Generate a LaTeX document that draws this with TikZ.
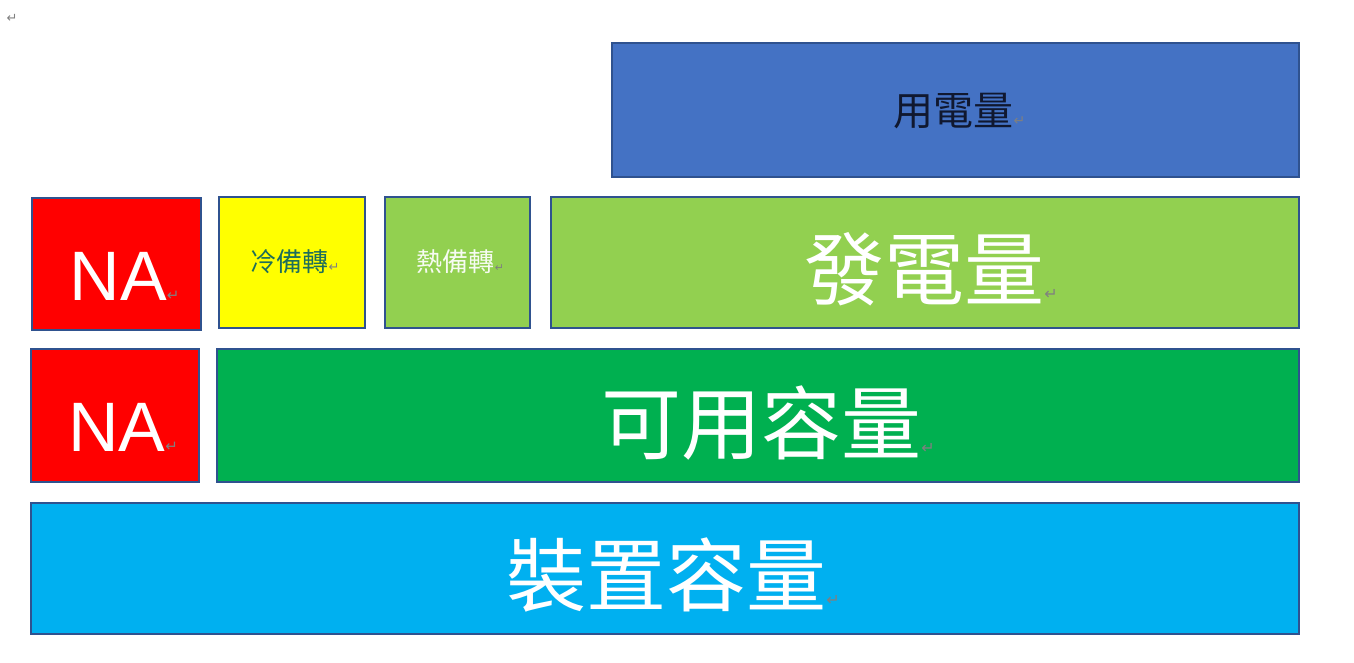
\documentclass[tikz,border=0pt]{standalone}
\usepackage{fontspec}
\setmainfont{Liberation Sans}
\newfontfamily\cjk{Noto Sans CJK TC}
\newfontfamily\dejavu{DejaVu Sans}
\definecolor{edgeblue}{HTML}{2F528F}
\definecolor{useblue}{HTML}{4472C4}
\definecolor{nared}{HTML}{FF0000}
\definecolor{coldyellow}{HTML}{FFFF00}
\definecolor{lightgreen}{HTML}{92D050}
\definecolor{darkgreen}{HTML}{00B050}
\definecolor{skyblue}{HTML}{00B0F0}
\definecolor{coldtext}{HTML}{1E6E5A}
\definecolor{usetext}{HTML}{101830}
\newcommand\retmk[1][14]{{\color{gray}\dejavu\fontsize{#1}{#1}\selectfont ↵}}
\tikzset{
  blk/.style={draw=edgeblue, line width=2.5pt, inner sep=0pt},
  lbl/.style={inner sep=0pt, align=center},
}
\begin{document}
\begin{tikzpicture}[x=1pt,y=-1pt]
\useasboundingbox[fill=white] (0,0) rectangle (1354,662);
\node[inner sep=0pt] (mark) at (12,18) {\retmk[13]};
% usage
\node[blk, fill=useblue, minimum width=687, minimum height=134] (use) at (955.5,110) {};
\node[lbl] (use-t) at ([xshift=4pt,yshift=-1pt]use.center)
  {\cjk\fontsize{40}{40}\selectfont\color{usetext}用電量\retmk};
% row 2
\node[blk, fill=nared, minimum width=169, minimum height=132] (na1) at (116.5,264) {};
\node[lbl] (na1-t) at ([xshift=8pt,yshift=-12pt]na1.center)
  {\fontsize{70}{70}\selectfont\color{white}NA\retmk[15]};
\node[blk, fill=coldyellow, minimum width=146, minimum height=131] (cold) at (292,262.5) {};
\node[lbl] (cold-t) at ([xshift=3pt,yshift=1pt]cold.center)
  {\cjk\fontsize{26}{26}\selectfont\color{coldtext}冷備轉\retmk[13]};
\node[blk, fill=lightgreen, minimum width=145, minimum height=131] (hot) at (457.5,262.5) {};
\node[lbl] (hot-t) at ([xshift=3pt,yshift=1pt]hot.center)
  {\cjk\fontsize{26}{26}\selectfont\color{white!92!lightgreen}熱備轉\retmk[11]};
\node[blk, fill=lightgreen, minimum width=748, minimum height=131] (gen) at (925,262.5) {};
\node[lbl] (gen-t) at ([xshift=6pt,yshift=-7pt]gen.center)
  {\cjk\fontsize{80}{80}\selectfont\color{white}發電量\retmk[16]};
% row 3
\node[blk, fill=nared, minimum width=168, minimum height=133] (na2) at (115,415.5) {};
\node[lbl] (na2-t) at ([xshift=8pt,yshift=-12pt]na2.center)
  {\fontsize{70}{70}\selectfont\color{white}NA\retmk[15]};
\node[blk, fill=darkgreen, minimum width=1082, minimum height=133] (avail) at (758,415.5) {};
\node[lbl] (avail-t) at ([xshift=10pt,yshift=-8pt]avail.center)
  {\cjk\fontsize{80}{80}\selectfont\color{white}可用容量\retmk[16]};
% row 4
\node[blk, fill=skyblue, minimum width=1268, minimum height=131] (inst) at (665,568.5) {};
\node[lbl] (inst-t) at ([xshift=8pt,yshift=-7pt]inst.center)
  {\cjk\fontsize{80}{80}\selectfont\color{white}裝置容量\retmk[16]};
\end{tikzpicture}
\end{document}
